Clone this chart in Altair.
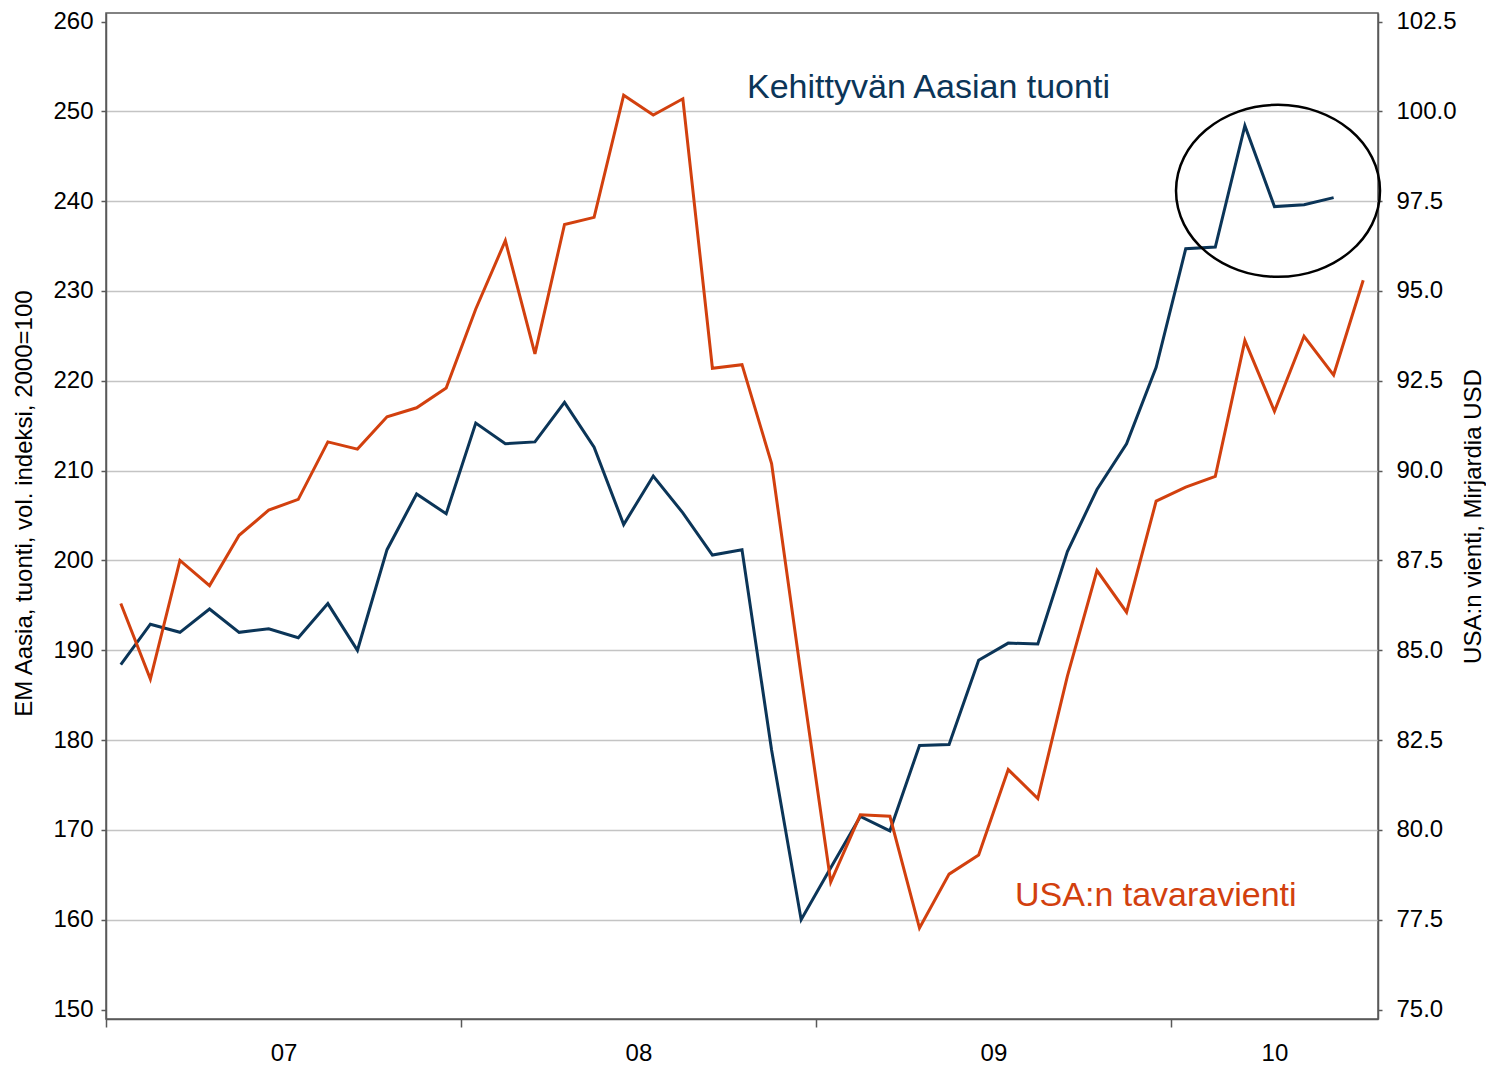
import altair as alt
import pandas as pd

# ---------------- data ----------------
year_labels = ["07", "08", "09", "10"]
months = [f"{2007 + i // 12}-{i % 12 + 1:02d}" for i in range(43)]  # 2007-01 .. 2010-07

# EM Asia imports, volume index 2000=100 (left axis), 2007-01 .. 2010-06
asia_imports = [188.4, 192.9, 192.0, 194.6, 192.0, 192.4, 191.4, 195.2, 190.0, 201.2,
                207.4, 205.2, 215.3, 213.0, 213.2, 217.6, 212.6, 204.0, 209.4, 205.3,
                200.6, 201.2, 178.9, 160.0, 165.8, 171.5, 169.9, 179.4, 179.5, 188.9,
                190.8, 190.7, 201.0, 207.9, 213.0, 221.5, 234.7, 234.9, 248.4, 239.4,
                239.6, 240.4]

# US goods exports, bn USD (right axis), 2007-01 .. 2010-07
us_exports = [86.3, 84.2, 87.5, 86.8, 88.2, 88.9, 89.2, 90.8, 90.6, 91.5,
              91.75, 92.3, 94.5, 96.4, 93.25, 96.85, 97.05, 100.45, 99.9, 100.35,
              92.85, 92.95, 90.2, 84.3, 78.55, 80.42, 80.38, 77.27, 78.77, 79.3,
              81.68, 80.87, 84.28, 87.22, 86.06, 89.15, 89.54, 89.84, 93.62, 91.65,
              93.74, 92.66, 95.3]

series_names = ["Kehittyvän Aasian tuonti", "USA:n tavaravienti"]
left_title = "EM Aasia, tuonti, vol. indeksi, 2000=100"
right_title = "USA:n vienti, Mirjardia USD"

# annotation anchors (month index, left-axis value)
label_month = [21.67, 30.73]
label_value = [251.5, 161.5]
highlight_month = [39.62]
highlight_value = [241.15]

# ---------------- styles ----------------
NAVY = "#0b3558"
RED = "#d2400e"
AXIS = "#595959"
GRID = "#c4c4c4"
FONT = "Liberation Sans"
FS = 24

asia_df = pd.DataFrame({"month": months[:len(asia_imports)],
                        "t": [i + 0.5 for i in range(len(asia_imports))],
                        "asia": asia_imports})
us_df = pd.DataFrame({"month": months[:len(us_exports)],
                      "t": [i + 0.5 for i in range(len(us_exports))],
                      "us": us_exports})
label_df = pd.DataFrame({"t": label_month, "asia": label_value, "name": series_names,
                         "series": ["asia", "us"]})
circle_df = pd.DataFrame({"t": highlight_month, "asia": highlight_value})

n_months = len(months)
label_pos = [6, 18, 30, (36 + n_months) / 2]
label_expr = " : ".join(
    f"datum.value == {p} ? '{l}'" for p, l in zip(label_pos, year_labels)) + " : ''"

x_scale = alt.Scale(domain=[0, n_months], nice=False, zero=False)
left_scale = alt.Scale(domain=[148.95, 260.95], nice=False, zero=False)
right_scale = alt.Scale(domain=[74.7375, 102.7375], nice=False, zero=False)

x_axis = alt.Axis(
    values=[0, 12, 24, 36] + label_pos,
    labelExpr=label_expr,
    title=None, grid=False, labelOverlap=False, labelFlush=False,
    tickSize=8, tickColor=AXIS, tickWidth=1.5,
    tickOpacity={"condition": {"test": "datum.value % 12 == 0", "value": 1}, "value": 0},
    domainColor=AXIS, domainWidth=1.5,
    labelFont=FONT, labelFontSize=FS, labelColor="black", labelPadding=14,
)

left_axis = alt.Axis(
    values=list(range(150, 261, 10)), title=left_title,
    grid=True, gridColor=GRID, gridWidth=1.5,
    gridOpacity={"condition": {"test": "datum.value > 150 && datum.value < 260", "value": 1},
                 "value": 0},
    tickSize=5, tickColor=AXIS, tickWidth=1.5, domainColor=AXIS, domainWidth=1.5,
    labelFont=FONT, labelFontSize=FS, labelColor="black", labelPadding=8,
    titleFont=FONT, titleFontSize=FS, titleFontWeight="normal", titleColor="black",
    titlePadding=16, titleY=490,
)

right_axis = alt.Axis(
    orient="right", values=[75 + 2.5 * k for k in range(12)], format=".1f",
    title=right_title, grid=False,
    tickSize=4, tickColor=AXIS, tickWidth=1.5, domainColor=AXIS, domainWidth=1.5,
    labelFont=FONT, labelFontSize=FS, labelColor="black", labelPadding=14,
    titleFont=FONT, titleFontSize=FS, titleFontWeight="normal", titleColor="black",
    titleAngle=270, titleBaseline="top", titlePadding=5,
)

asia_line = alt.Chart(asia_df).mark_line(color=NAVY, strokeWidth=3).encode(
    x=alt.X("t:Q", scale=x_scale, axis=x_axis),
    y=alt.Y("asia:Q", scale=left_scale, axis=left_axis),
)

labels = alt.Chart(label_df).mark_text(
    align="left", baseline="alphabetic", font=FONT, fontSize=34
).encode(
    x=alt.X("t:Q", scale=x_scale),
    y=alt.Y("asia:Q", scale=left_scale),
    text="name:N",
    color=alt.Color("series:N", scale=alt.Scale(domain=["asia", "us"], range=[NAVY, RED]),
                    legend=None),
)

ellipse_path = ("M 1 0 C 1 0.4656 0.5523 0.843 0 0.843 C -0.5523 0.843 -1 0.4656 -1 0 "
                "C -1 -0.4656 -0.5523 -0.843 0 -0.843 C 0.5523 -0.843 1 -0.4656 1 0 Z")
highlight = alt.Chart(circle_df).mark_point(
    shape=ellipse_path, size=41616, filled=False, stroke="black", color="black",
    strokeWidth=2.5, opacity=1
).encode(
    x=alt.X("t:Q", scale=x_scale),
    y=alt.Y("asia:Q", scale=left_scale),
)

left_layer = alt.layer(asia_line, labels, highlight)

us_line = alt.Chart(us_df).mark_line(color=RED, strokeWidth=3).encode(
    x=alt.X("t:Q", scale=x_scale),
    y=alt.Y("us:Q", scale=right_scale, axis=right_axis),
)

chart = alt.layer(left_layer, us_line).resolve_scale(y="independent").properties(
    width=1272, height=1006,
    autosize=alt.AutoSizeParams(type="none"),
    padding={"left": 98, "top": 5, "right": 108, "bottom": 50},
    background="white",
).configure_view(stroke=AXIS, strokeWidth=1.5)

chart.save("out.html", embed_options={"renderer": "svg", "actions": False})
